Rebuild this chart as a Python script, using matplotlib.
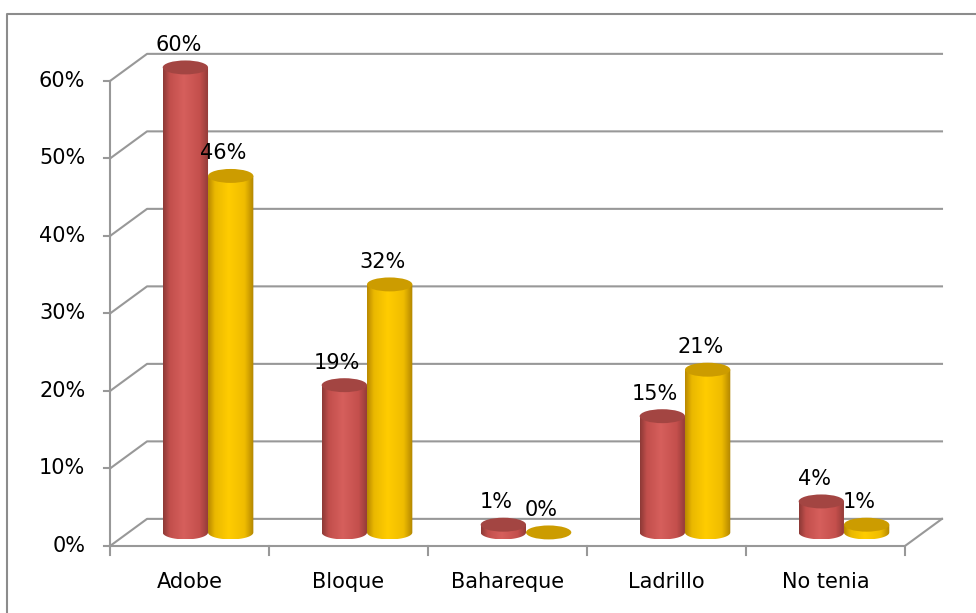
import numpy as np
import matplotlib.pyplot as plt
from matplotlib.colors import LinearSegmentedColormap
from matplotlib.patches import Ellipse, PathPatch
from matplotlib.path import Path

categorias = ['Adobe', 'Bloque', 'Bahareque', 'Ladrillo', 'No tenia']
serie_roja = [60, 19, 1, 15, 4]
serie_amarilla = [46, 32, 0, 21, 1]
ticks = [0, 10, 20, 30, 40, 50, 60]

# profundidad del efecto 3D (unidades de datos)
DX, DY = 0.233, 3.5
W = 0.285   # ancho de cada cilindro
B = 0.9     # semieje vertical de las elipses
GRIS = '#989898'
FS = 15

rojo = LinearSegmentedColormap.from_list('rojo', [
    (0, '#8c3936'), (0.15, '#c24f4c'), (0.45, '#d65f5c'), (0.8, '#c44f4c'), (1, '#8f3a37')])
amarillo = LinearSegmentedColormap.from_list('amarillo', [
    (0, '#b88700'), (0.15, '#eab800'), (0.45, '#ffcc00'), (0.8, '#efbc00'), (1, '#b08400')])

fig = plt.figure(figsize=(9.76, 6.13), dpi=100)
ax = fig.add_axes([0, 0, 1, 1])
ax.axis('off')

n = len(categorias)

# pared del fondo y piso
for v in ticks:
    ax.plot([0, DX, n + DX], [v, v + DY, v + DY], color=GRIS, lw=1.5)
    ax.plot([-0.04, 0], [v, v], color=GRIS, lw=1.5)
    ax.text(-0.155, v, f'{v}%', ha='right', va='center', fontsize=FS)
ax.plot([0, 0], [0, ticks[-1]], color=GRIS, lw=1.5)
ax.plot([0, n, n + DX], [0, 0, DY], color=GRIS, lw=1.5)
for i in range(n + 1):
    ax.plot([i, i], [0, -1.2], color=GRIS, lw=1.5)
for i, c in enumerate(categorias):
    ax.text(i + 0.5, -4.7, c, ha='center', va='center', fontsize=FS)


def cilindro(xc, v, cmap, tapa, z):
    y0 = DY / 2
    y1 = y0 + v
    x0, x1 = xc - W / 2, xc + W / 2
    if v > 0:
        t = np.linspace(np.pi, 2 * np.pi, 60)
        bx = xc + W / 2 * np.cos(t)
        by = y0 + B * np.sin(t)
        verts = [(x0, y1)] + list(zip(bx, by)) + [(x1, y1), (x0, y1)]
        cuerpo = PathPatch(Path(verts), transform=ax.transData,
                           facecolor='none', edgecolor='none')
        ax.add_patch(cuerpo)
        grad = np.linspace(0, 1, 256).reshape(1, -1)
        im = ax.imshow(grad, cmap=cmap, extent=[x0, x1, y0 - B, y1],
                       aspect='auto', origin='lower', zorder=z)
        im.set_clip_path(cuerpo)
    ax.add_patch(Ellipse((xc, y1), W, 2 * B, facecolor=tapa,
                         edgecolor='none', zorder=z + 0.5))
    ax.text(xc - 0.045, y1 + 2.9, f'{v}%', ha='center', va='center',
            fontsize=FS, zorder=10)


for i in range(n):
    xr = i + 0.5 - W / 2 + DX / 2
    cilindro(xr, serie_roja[i], rojo, '#a34542', 3 + i)
    cilindro(xr + W, serie_amarilla[i], amarillo, '#cc9c00', 3.2 + i)

ax.set_xlim(-0.692, 5.447)
ax.set_ylim(-8.645, 70.45)

# marco exterior
fig.add_artist(plt.Line2D([7 / 976, 7 / 976, 1], [0, 1 - 14 / 613, 1 - 14 / 613],
                          transform=fig.transFigure, color='#8c8c8c', lw=1.5))

fig.savefig('out.png', dpi=100)
